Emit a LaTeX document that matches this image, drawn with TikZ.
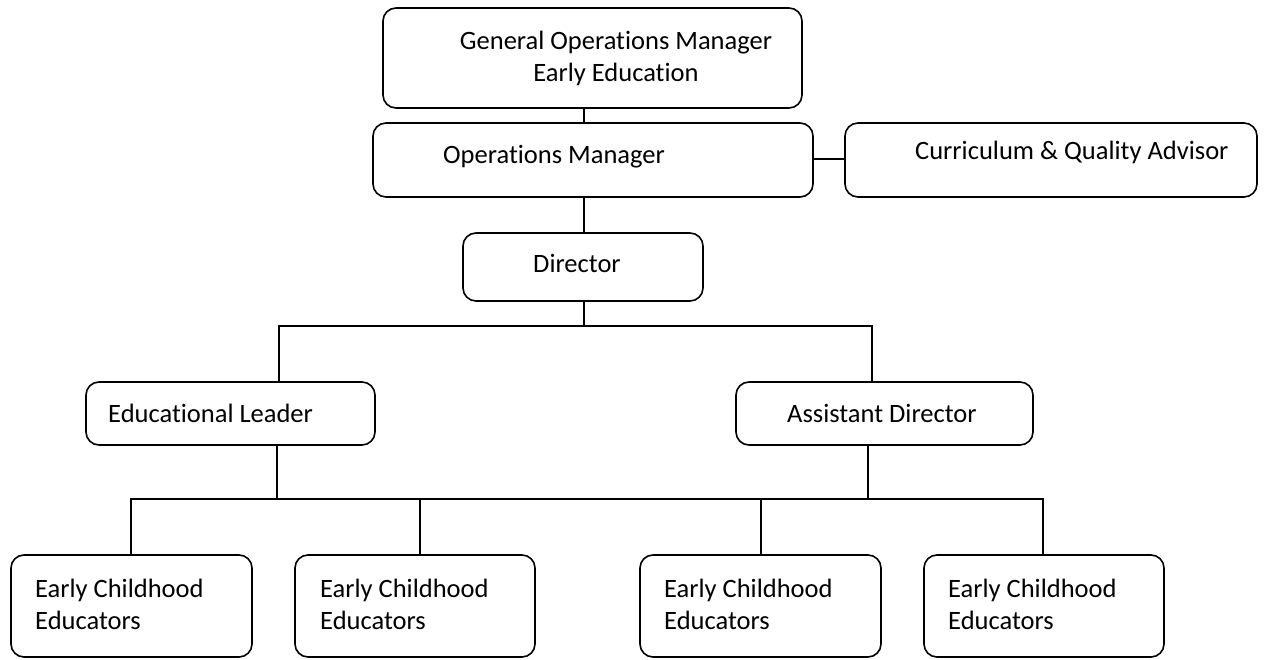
\documentclass[tikz,border=0pt]{standalone}
\usepackage{fontspec}
\setmainfont{Carlito}[Ligatures={NoCommon,NoContextual}]
\begin{document}
\begin{tikzpicture}[x=1pt,y=-1pt,
  box/.style={draw, line width=1.6pt, rounded corners=13pt, inner sep=0pt},
  lbl/.style={inner sep=0pt, font=\fontsize{26.5}{32}\selectfont},
  conn/.style={line width=1.3pt}]
\useasboundingbox (0,0) rectangle (1264,660);
% boxes
\node[box, minimum width=419pt, minimum height=100pt] (gom) at (592.5,58) {};
\node[box, minimum width=440pt, minimum height=74pt] (om) at (593,160) {};
\node[box, minimum width=412pt, minimum height=74pt] (cqa) at (1051,160) {};
\node[box, minimum width=240pt, minimum height=68pt] (dir) at (583,267) {};
\node[box, minimum width=289pt, minimum height=63pt] (el) at (230.5,413.5) {};
\node[box, minimum width=297pt, minimum height=63pt] (ad) at (884.5,413.5) {};
\node[box, minimum width=241pt, minimum height=102pt] (e1) at (131.5,606) {};
\node[box, minimum width=240pt, minimum height=102pt] (e2) at (415,606) {};
\node[box, minimum width=241pt, minimum height=102pt] (e3) at (760.5,606) {};
\node[box, minimum width=240pt, minimum height=102pt] (e4) at (1044,606) {};
% texts
\node[lbl, anchor=base] (gomt) at (616,50) {\begin{tabular}[t]{@{}c@{}}General Operations Manager\\Early Education\end{tabular}};
\node[lbl, anchor=base west] (omt) at (443,164) {Operations Manager};
\node[lbl, anchor=base west] (cqat) at (915,160) {Curriculum \& Quality Advisor};
\node[lbl, anchor=base west] (dirt) at (533,273) {Director};
\node[lbl, anchor=base west] (elt) at (108,422) {Educational Leader};
\node[lbl, anchor=base west] (adt) at (787,422) {Assistant Director};
\node[lbl, anchor=base west] (e1t) at (35,597) {\begin{tabular}[t]{@{}l@{}}Early Childhood\\Educators\end{tabular}};
\node[lbl, anchor=base west] (e2t) at (320,597) {\begin{tabular}[t]{@{}l@{}}Early Childhood\\Educators\end{tabular}};
\node[lbl, anchor=base west] (e3t) at (664,597) {\begin{tabular}[t]{@{}l@{}}Early Childhood\\Educators\end{tabular}};
\node[lbl, anchor=base west] (e4t) at (948,597) {\begin{tabular}[t]{@{}l@{}}Early Childhood\\Educators\end{tabular}};
% connectors
\coordinate (sp) at (584,326);
\coordinate (elu) at (279,326);
\coordinate (adu) at (872,326);
\coordinate (eld) at (277,499);
\coordinate (add) at (868,499);
\coordinate (k1) at (131,499);
\coordinate (k2) at (420,499);
\coordinate (k3) at (761,499);
\coordinate (k4) at (1043,499);
\coordinate (side) at (0,159);
\draw[conn] (gom.south -| sp) -- (om.north -| sp);
\draw[conn] (om.east |- side) -- (cqa.west |- side);
\draw[conn] (om.south -| sp) -- (dir.north -| sp);
\draw[conn] (dir.south -| sp) -- (sp);
\draw[conn] (el.north -| elu) -- (elu) -- (adu) -- (ad.north -| adu);
\draw[conn] (el.south -| eld) -- (eld);
\draw[conn] (ad.south -| add) -- (add);
\draw[conn] (e1.north -| k1) -- (k1) -- (k4) -- (e4.north -| k4);
\draw[conn] (e2.north -| k2) -- (k2);
\draw[conn] (e3.north -| k3) -- (k3);
\end{tikzpicture}
\end{document}
